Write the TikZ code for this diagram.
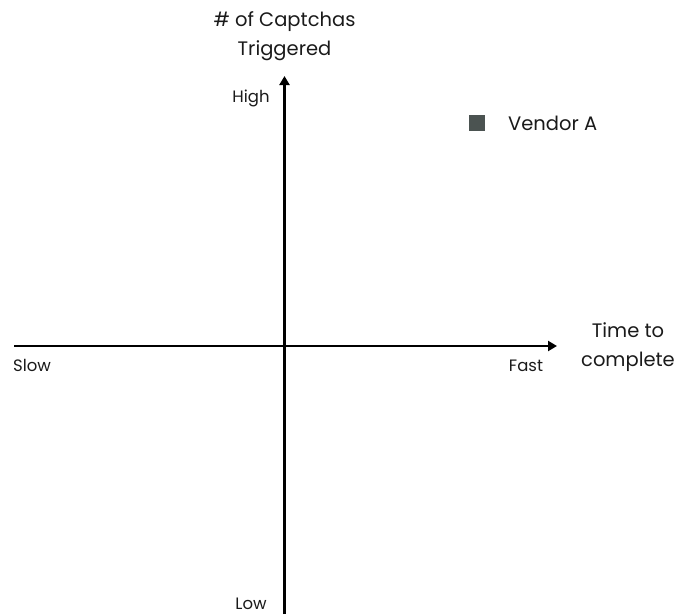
\documentclass[tikz,border=0pt]{standalone}
\usepackage{fontspec}
\setmainfont{Poppins}
\usetikzlibrary{arrows.meta}
\definecolor{marker}{HTML}{4B5351}
\definecolor{txt}{HTML}{1A1A1A}
\begin{document}
\begin{tikzpicture}[x=1pt,y=-1pt,
  big/.style={font=\fontsize{19.5}{29}\selectfont, text=txt, align=center, inner sep=0pt},
  small/.style={font=\fontsize{16.5}{18}\selectfont, text=txt, inner sep=0pt},
  axis/.style={line width=2.2pt, -{Triangle[length=9pt,width=10pt]}}]
\useasboundingbox (0,0) rectangle (678,614);
\coordinate (origin) at (284.5,346);
\coordinate (left) at (14,346);
\coordinate (right) at (557,346);
\coordinate (bottom) at (284.5,614);
\coordinate (top) at (284.5,76);
\draw[axis] (left) -- (right);
\draw[axis] (bottom) -- (top);
\node[big] (ylabel) at (284.5,36) {\# of Captchas\\Triggered};
\node[big] (xlabel) at (628,347.5) {Time to\\complete};
\node[small] (high) at (251,98) {High};
\node[small, anchor=base] (low) at (251,609) {Low};
\node[small] (slow) at (32,365) {Slow};
\node[small] (fast) at (526,366) {Fast};
\node[fill=marker, minimum size=16pt, inner sep=0pt] (vendor) at (477,123) {};
\node[big, anchor=west] (vendorlabel) at (508,123) {Vendor A};
\end{tikzpicture}
\end{document}
